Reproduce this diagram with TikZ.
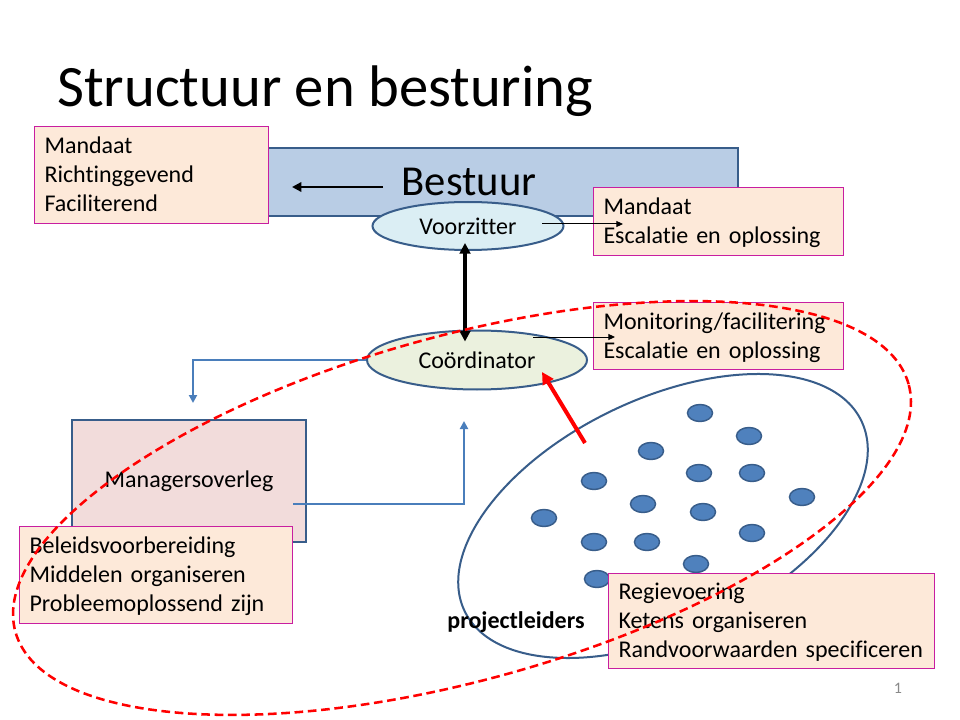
\documentclass[tikz,border=0pt]{standalone}
\usepackage{fontspec}
\setmainfont{Carlito}[Ligatures={NoCommon}]
\usetikzlibrary{arrows.meta,positioning,calc,shapes.geometric}
\definecolor{bestuurblauw}{RGB}{185,205,229}
\definecolor{randblauw}{RGB}{56,93,138}
\definecolor{lijnblauw}{RGB}{74,126,187}
\definecolor{stipblauw}{RGB}{79,129,189}
\definecolor{voorzvul}{RGB}{219,238,244}
\definecolor{coordvul}{RGB}{235,241,222}
\definecolor{mgrvul}{RGB}{242,220,219}
\definecolor{kaderroze}{RGB}{253,233,217}
\definecolor{kaderrand}{RGB}{200,30,160}
\definecolor{paginagrijs}{RGB}{137,137,137}
\newcommand{\regelboven}{\rule{0pt}{18.5pt}}
\tikzset{
  kader/.style={draw=kaderrand, fill=kaderroze, line width=0.75pt, anchor=north west,
                align=left, text width=#1, inner xsep=7.5pt, inner ysep=0pt,
                font=\fontsize{18}{21.75}\selectfont},
  ovaal/.style={ellipse, draw=randblauw, line width=1.5pt, inner sep=0pt,
                font=\fontsize{18}{21.6}\selectfont},
  stip/.style={ellipse, draw=randblauw, fill=stipblauw, line width=1.1pt,
               minimum width=18.75pt, minimum height=12.75pt, inner sep=0pt},
  dunpijl/.style={-{Triangle[length=5pt,width=4.5pt]}, black, line width=0.75pt},
  blauwpijl/.style={-{Triangle[length=6pt,width=6pt]}, lijnblauw, line width=1.5pt},
  dikpijl/.style={{Triangle[length=8pt,width=8pt]}-{Triangle[length=8pt,width=8pt]}, black, line width=2.6pt},
  bestuurpijl/.style={-{Triangle[length=7pt,width=7pt]}, black, line width=2.2pt},
  rodepijl/.style={-{Triangle[length=9pt,width=9pt]}, red, line width=3pt},
  rondom/.style={red, line width=1.9pt, dash pattern=on 6.5pt off 3.5pt},
}

\begin{document}
\begin{tikzpicture}[x=0.75pt, y=-0.75pt]
  \useasboundingbox[fill=white] (0,0) rectangle (960,720);

  % titel
  \node[anchor=base west, inner sep=0pt, font=\fontsize{44}{52}\selectfont] (titel) at (57,107) {Structuur en besturing};

  % bestuur + voorzitter
  \node[draw=randblauw, fill=bestuurblauw, line width=2pt, minimum width=403.5pt, minimum height=51pt,
        inner sep=0pt, font=\fontsize{32}{38}\selectfont] (bestuur) at (469,182) {Bestuur};
  \node[kader=160.5pt, minimum height=72.75pt] (taakbestuur) at (34,126)
        {\regelboven Mandaat\\Richtinggevend\\Faciliterend\strut};
  \coordinate (bp-start) at (383,187);
  \coordinate (bp-eind) at (292,187);
  \draw[bestuurpijl] (bp-start) -- (bp-eind);

  \node[ovaal, fill=voorzvul, minimum width=143.25pt, minimum height=36pt] (voorzitter) at (468,226) {Voorzitter\hspace{7pt}};
  \node[kader=172.5pt, minimum height=51pt] (taakvoorz) at (593,187)
        {\regelboven Mandaat\\Escalatie en oplossing\strut};
  \coordinate (vz-uit) at (542,224);
  \coordinate (vz-in) at (623,224);
  \draw[dunpijl] (vz-uit) -- (vz-in);

  % coordinator
  \node[ovaal, fill=coordvul, minimum width=165pt, minimum height=44.25pt] (coordinator) at (477,360) {Coördinator};
  \draw[dikpijl] ($(voorzitter.south)+(-3,-8)$) -- ($(coordinator.north -| voorzitter.south)+(-3,12)$);
  \node[kader=172.5pt, minimum height=50.25pt] (taakcoord) at (593,302)
        {\regelboven Monitoring/facilitering\\Escalatie en oplossing\strut};
  \coordinate (co-uit) at (533,337);
  \coordinate (co-in) at (615,337);
  \draw[dunpijl] (co-uit) -- (co-in);

  % managersoverleg
  \node[draw=randblauw, fill=mgrvul, line width=2pt, minimum width=175.5pt, minimum height=91.5pt,
        inner sep=0pt, font=\fontsize{18}{21.6}\selectfont] (managers) at (189,481) {Managersoverleg};
  \coordinate (mgr-in) at (193,403);
  \coordinate (mgr-uit) at (293,504);
  \coordinate (co-onder) at (464,421);
  \draw[blauwpijl] (coordinator.west) -| (mgr-in);
  \draw[blauwpijl] (mgr-uit) -| (co-onder);

  % projectleiders
  \node[ovaal, minimum width=330pt, minimum height=175.5pt, rotate=25.6] (groep) at (663,516) {};
  \foreach \px/\py in {700/413, 749/436, 651/451, 594/481, 699/473, 752/473, 802/497, 643/504,
                       703/512, 544/518, 594/542, 647/542, 752/533, 696/564, 597/579}
    \node[stip] at (\px,\py) {};

  \node[kader=189.75pt, minimum height=72.75pt] (taakmgr) at (19,526)
        {\regelboven Beleidsvoorbereiding\\Middelen organiseren\\Probleemoplossend zijn\strut};
  \node[kader=229.5pt, minimum height=71.25pt] (taakpl) at (608,573)
        {\regelboven Regievoering\\Ketens organiseren\\Randvoorwaarden specificeren\strut};
  \node[font=\fontsize{18}{21.6}\selectfont\bfseries, inner sep=0pt] (plabel) at (516,622) {projectleiders};

  \coordinate (pl-uit) at (585,443);
  \coordinate (co-rechts) at (542,372);
  \draw[rodepijl] (pl-uit) -- (co-rechts);

  % rode stippellijn
  \draw[rondom] (462,508) ellipse [x radius=347.6pt, y radius=129pt, rotate=15.5];

  \node[font=\fontsize{12}{14}\selectfont, text=paginagrijs, inner sep=0pt] (paginanr) at (898,688) {1};
\end{tikzpicture}
\end{document}
